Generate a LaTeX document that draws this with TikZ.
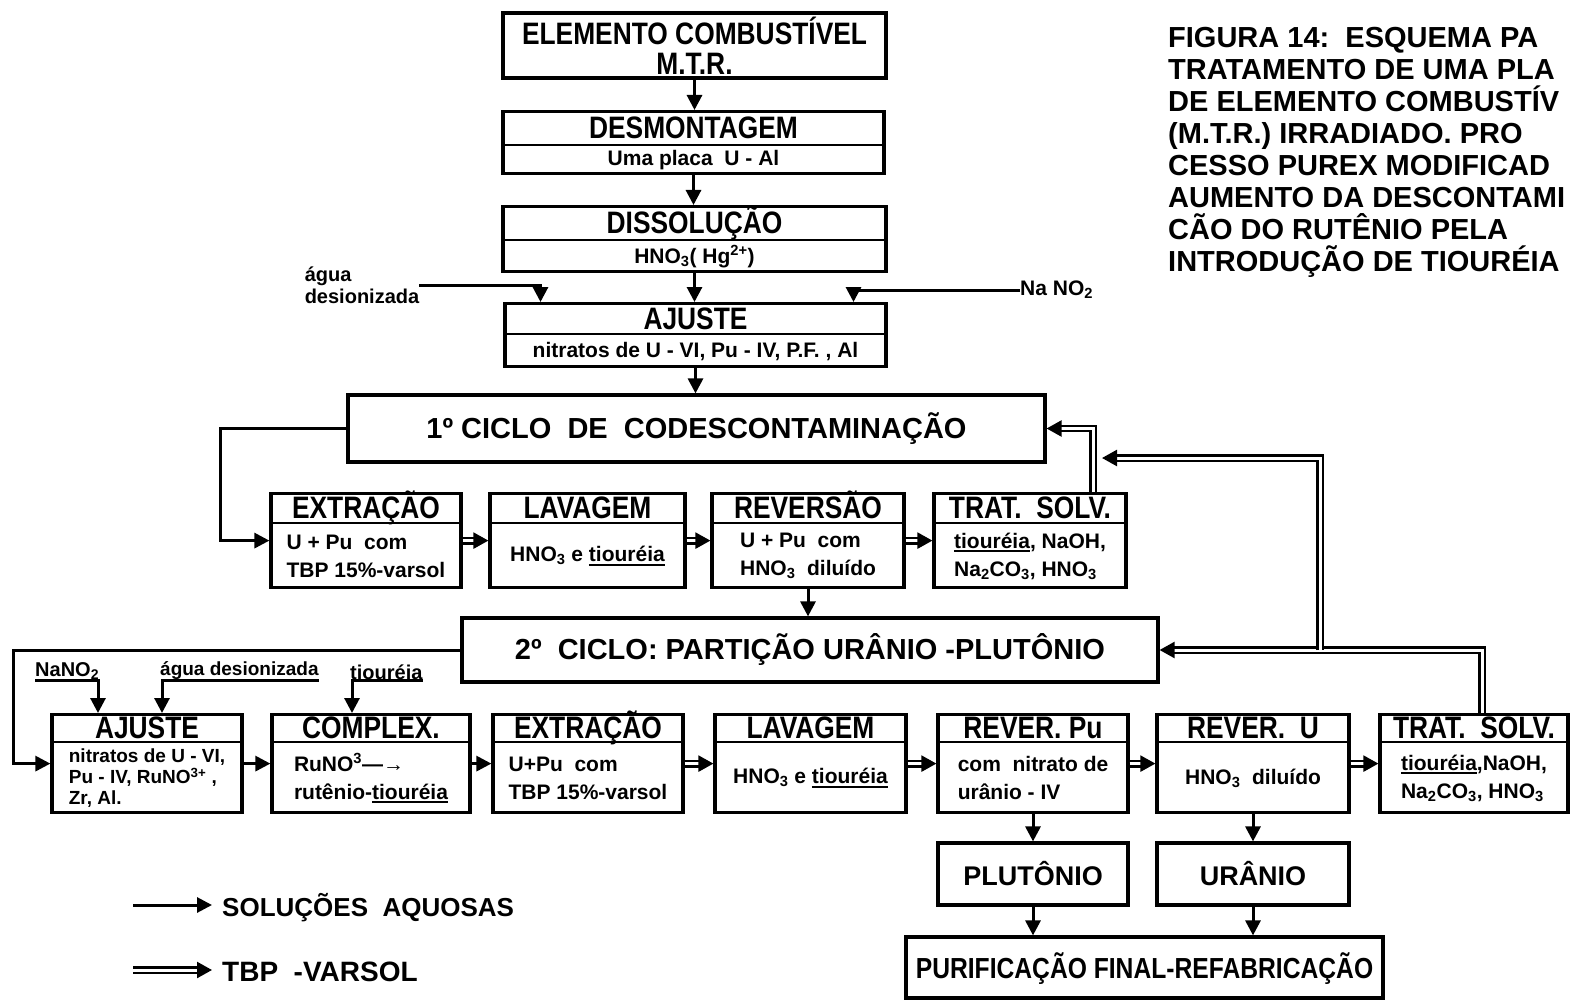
\documentclass[tikz,border=0pt]{standalone}
\usepackage{fontspec}
\setmainfont{Liberation Sans}
\newfontfamily\narrowfont{Liberation Sans}[FakeStretch=0.85]
\usetikzlibrary{arrows.meta, positioning, calc}

% thick underline for the reagent names
\newcommand{\tul}[1]{\setbox0\hbox{#1}\rlap{\rule[-4pt]{\wd0}{2.2pt}}\box0}

% one step: frame, title band and body
% [body options]{name}{centre x}{top y}{width}{title band}{height}{title}{body}
\newcommand{\procbox}[9][]{%
  \node[boxframe, minimum width=#5, minimum height=#7, anchor=north] (#2) at (#3,#4) {};
  \draw[line width=2.4pt] ([yshift=-#6]#2.north west) -- ([yshift=-#6]#2.north east);
  \node[titletext] (#2-title) at ($(#2.north)!0.5!([yshift=-#6]#2.north)$) {#8};
  \node[bodytext, #1] (#2-body) at ($([yshift=-#6]#2.north)!0.5!(#2.south)$) {#9};
}

\begin{document}
\begin{tikzpicture}[x=1pt, y=-1pt,
    boxframe/.style={draw, line width=3.2pt, inner sep=0pt},
    titletext/.style={font=\narrowfont\bfseries\fontsize{31}{31}\selectfont, inner sep=0pt,
      text height=22pt, text depth=0pt},
    bodytext/.style={font=\bfseries\fontsize{21}{28}\selectfont, align=left, inner sep=0pt},
    bigtext/.style={font=\bfseries\fontsize{29}{29}\selectfont},
    feedtext/.style={font=\bfseries\fontsize{20}{22}\selectfont, align=left, inner sep=0pt},
    aq/.style={line width=3pt, -{Triangle[length=15pt, width=15pt]}},
    tbp/.style={double=white, double distance=3pt, line width=2.4pt, -{Triangle[length=15pt, width=16pt]}}
  ]
  \useasboundingbox (0,0) rectangle (1572,1003);

  % preparation of the plate
  \node[boxframe, align=center, minimum width=383pt, minimum height=65pt,
    font=\narrowfont\bfseries\fontsize{31}{30}\selectfont] (elem) at (694.5,45.5)
    {ELEMENTO COMBUSTÍVEL\\M.T.R.};
  \procbox{desm}{693.5}{110}{381pt}{35pt}{62pt}{DESMONTAGEM}{Uma placa\ \ U - Al}
  \procbox{diss}{694.5}{205}{383pt}{35pt}{65pt}{DISSOLUÇÃO}{HNO\textsubscript{3}( Hg\textsuperscript{2+})}
  \procbox{aj1}{695.5}{302}{381pt}{32pt}{63pt}{AJUSTE}{nitratos de U - VI, Pu - IV, P.F. , Al}

  \draw[aq] (elem.south) -- (elem.south |- desm.north);
  \draw[aq] (desm.south) -- (desm.south |- diss.north);
  \draw[aq] (diss.south) -- (diss.south |- aj1.north);

  \node[feedtext] (agua1) at (362,285) {água\\desionizada};
  \node[feedtext, anchor=west, font=\bfseries\fontsize{21}{22}\selectfont] (nano1) at (1020,290) {Na NO\textsubscript{2}};
  \draw[aq] (agua1.east) -| ([xshift=-155pt]aj1.north);
  \draw[aq] (nano1.west) -| ([xshift=158pt]aj1.north);

  % first cycle
  \node[boxframe, bigtext, minimum width=697pt, minimum height=67pt] (cyc1) at (696.5,428.5)
    {1º\ CICLO\ \ DE\ \ CODESCONTAMINAÇÃO};
  \draw[aq] (aj1.south) -- (aj1.south |- cyc1.north);

  \procbox{ext1}{366}{492}{190pt}{31pt}{94pt}{EXTRAÇÃO}{U + Pu\ \ com\\TBP 15\%-varsol}
  \procbox{lav1}{587.5}{492}{195pt}{31pt}{94pt}{LAVAGEM}{HNO\textsubscript{3} e \tul{tiouréia}}
  \procbox{rev1}{808}{492}{192pt}{31pt}{94pt}{REVERSÃO}{U + Pu\ \ com\\HNO\textsubscript{3}\ \ diluído}
  \procbox{trat1}{1030}{492}{192pt}{31pt}{94pt}{TRAT.\ \ SOLV.}{\tul{tiouréia}, NaOH,\\Na\textsubscript{2}CO\textsubscript{3}, HNO\textsubscript{3}}

  \draw[aq] (cyc1.west) -- ++(-126,0) |- (ext1.west);
  \draw[tbp] (ext1.east) -- (lav1.west);
  \draw[tbp] (lav1.east) -- (rev1.west);
  \draw[tbp] (rev1.east) -- (trat1.west);
  \draw[tbp] ([xshift=63pt]trat1.north) |- (cyc1.east);

  % second cycle
  \node[boxframe, bigtext, minimum width=696pt, minimum height=64pt] (cyc2) at (810,650)
    {2º\ \ CICLO: PARTIÇÃO URÂNIO -PLUTÔNIO};
  \draw[aq] (rev1.south) -- (rev1.south |- cyc2.north);

  \procbox[font=\bfseries\fontsize{19}{21}\selectfont]{aj2}{147}{713}{190pt}{29pt}{98pt}{AJUSTE}{nitratos de U - VI,\\Pu - IV, RuNO\textsuperscript{3+} ,\\Zr, Al.}
  \procbox{cx}{371}{713}{198pt}{29pt}{98pt}{COMPLEX.}{RuNO\textsuperscript{3}—→\\rutênio-\tul{tiouréia}}
  \procbox{ext2}{588}{713}{190pt}{29pt}{98pt}{EXTRAÇÃO}{U+Pu\ \ com\\TBP 15\%-varsol}
  \procbox{lav2}{810.5}{713}{191pt}{29pt}{98pt}{LAVAGEM}{HNO\textsubscript{3} e \tul{tiouréia}}
  \procbox{revpu}{1033}{713}{190pt}{29pt}{98pt}{REVER. Pu}{com\ \ nitrato de\\urânio - IV}
  \procbox{revu}{1253}{713}{192pt}{29pt}{98pt}{REVER.\ \ U}{HNO\textsubscript{3}\ \ diluído}
  \procbox{trat2}{1474}{713}{188pt}{29pt}{98pt}{TRAT.\ \ SOLV.}{\tul{tiouréia},NaOH,\\Na\textsubscript{2}CO\textsubscript{3}, HNO\textsubscript{3}}

  \node[feedtext, anchor=south west] (nano2) at (35,680) {NaNO\textsubscript{2}};
  \node[feedtext, anchor=south west, font=\bfseries\fontsize{19}{22}\selectfont] (agua2) at (160,680) {água desionizada};
  \node[feedtext, anchor=south west] (tiou2) at (350,680) {tiouréia};
  \draw[aq] (nano2.south west) -| ([xshift=-49pt]aj2.north);
  \draw[aq] (agua2.south east) -| ([xshift=15pt]aj2.north);
  \draw[aq] (tiou2.south east) -| ([xshift=-19pt]cx.north);

  \draw[aq] (cyc2.west) -- ++(-447,0) |- (aj2.west);
  \draw[aq] (aj2.east) -- (cx.west);
  \draw[aq] (cx.east) -- (ext2.west);
  \draw[tbp] (ext2.east) -- (lav2.west);
  \draw[tbp] (lav2.east) -- (revpu.west);
  \draw[tbp] (revpu.east) -- (revu.west);
  \draw[tbp] (revu.east) -- (trat2.west);

  % solvent returns
  \coordinate (branch) at (1320,650);
  \coordinate (merge1) at (1102,458);
  \draw[tbp] ([xshift=8pt]trat2.north) |- (cyc2.east);
  \draw[tbp] (branch) |- (merge1);

  % products
  \node[boxframe, bigtext, font=\bfseries\fontsize{27}{27}\selectfont, minimum width=190pt, minimum height=62pt] (plu) at (1033,874) {PLUTÔNIO};
  \node[boxframe, bigtext, font=\bfseries\fontsize{27}{27}\selectfont, minimum width=192pt, minimum height=62pt] (ura) at (1253,874) {URÂNIO};
  \node[boxframe, titletext, font=\narrowfont\bfseries\fontsize{29}{29}\selectfont, minimum width=477pt, minimum height=61pt] (puri) at (1144.5,967.5) {PURIFICAÇÃO FINAL-REFABRICAÇÃO};
  \draw[aq] (revpu.south) -- (revpu.south |- plu.north);
  \draw[aq] (revu.south) -- (revu.south |- ura.north);
  \draw[aq] (plu.south) -- (plu.south |- puri.north);
  \draw[aq] (ura.south) -- (ura.south |- puri.north);

  % legend
  \node[bigtext, font=\bfseries\fontsize{26}{26}\selectfont, anchor=west, inner sep=0pt] (leg1) at (222,908) {SOLUÇÕES\ \ AQUOSAS};
  \node[bigtext, font=\bfseries\fontsize{28}{28}\selectfont, anchor=west, inner sep=0pt] (leg2) at (222,972) {TBP\ \ -VARSOL};
  \coordinate (leg1-tail) at (133,905);
  \coordinate (leg2-tail) at (133,970);
  \draw[aq, shorten >=10pt] (leg1-tail) -- (leg1-tail -| leg1.west);
  \draw[tbp, shorten >=10pt] (leg2-tail) -- (leg2-tail -| leg2.west);

  % caption
  \node[font=\bfseries\fontsize{29}{32}\selectfont, align=left, anchor=north west, inner sep=0pt] (caption) at (1168,27)
    {FIGURA 14:\ \ ESQUEMA PA\\TRATAMENTO DE UMA PLA\\DE ELEMENTO COMBUSTÍV\\(M.T.R.) IRRADIADO. PRO\\CESSO PUREX MODIFICAD\\AUMENTO DA DESCONTAMI\\CÃO DO RUTÊNIO PELA\\INTRODUÇÃO DE TIOURÉIA};
\end{tikzpicture}
\end{document}
